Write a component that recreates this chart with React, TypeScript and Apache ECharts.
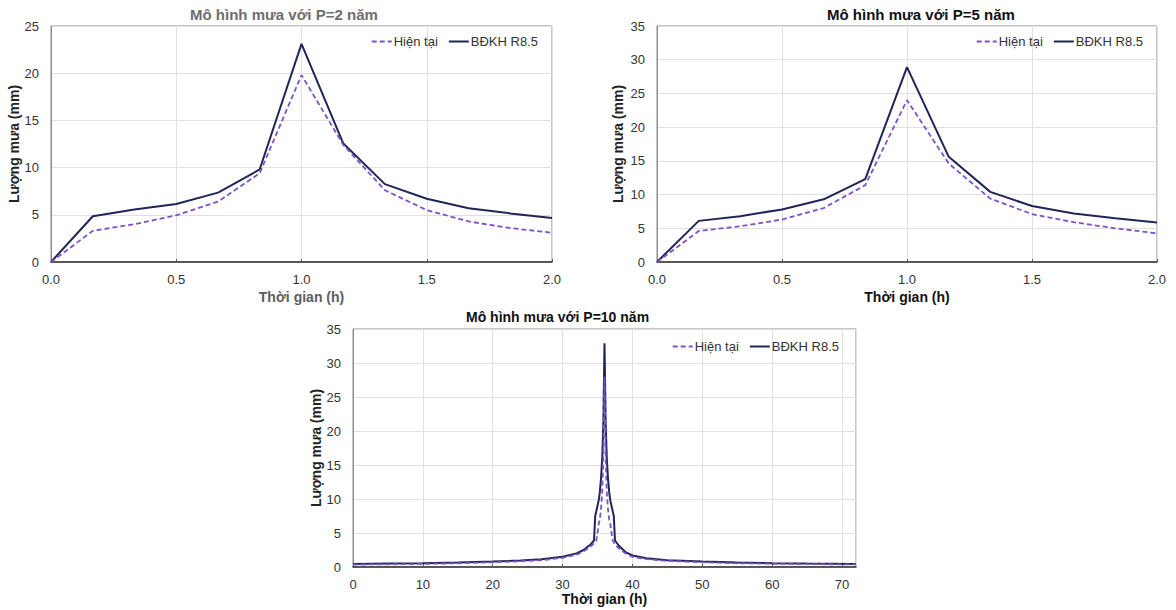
import React, { useEffect, useRef } from "react";
import * as echarts from "echarts";

// ---------- data ----------
const time2h = [0, 0.167, 0.333, 0.5, 0.667, 0.833, 1.0, 1.167, 1.333, 1.5, 1.667, 1.833, 2.0];

const p2Current = [0, 3.3, 4.0, 4.95, 6.4, 9.4, 19.8, 12.4, 7.6, 5.5, 4.3, 3.6, 3.1];
const p2Climate = [0, 4.85, 5.55, 6.15, 7.35, 9.8, 23.1, 12.55, 8.25, 6.7, 5.7, 5.15, 4.65];

const p5Current = [0, 4.6, 5.3, 6.3, 8.0, 11.4, 24.0, 14.6, 9.4, 7.1, 5.9, 5.0, 4.25];
const p5Climate = [0, 6.1, 6.8, 7.8, 9.3, 12.3, 28.9, 15.6, 10.4, 8.3, 7.2, 6.5, 5.85];

const p10CurrentTime = [0, 5, 10, 15, 20, 24, 27, 30, 32, 33, 34, 34.5, 34.83, 35.0, 35.17, 35.33, 35.5, 35.67, 35.83, 36.0, 36.17, 36.33, 36.5, 36.67, 36.83, 37.0, 37.17, 37.5, 38, 39, 40, 42, 45, 50, 55, 60, 65, 72];
const p10Current = [0.35, 0.4, 0.45, 0.55, 0.7, 0.85, 1.0, 1.35, 1.8, 2.3, 3.0, 3.5, 3.9, 5.0, 6.3, 7.0, 8.5, 11, 16, 28, 16, 11, 8.5, 7.0, 6.3, 5.0, 3.9, 3.3, 2.8, 2.0, 1.5, 1.15, 0.9, 0.7, 0.55, 0.48, 0.42, 0.38];

const p10ClimateTime = [0, 5, 10, 15, 20, 24, 27, 30, 32, 33, 34, 34.5, 34.67, 35.0, 35.17, 35.33, 35.5, 35.67, 35.83, 36.0, 36.17, 36.33, 36.5, 36.67, 36.83, 37.0, 37.33, 37.5, 38, 39, 40, 42, 45, 50, 55, 60, 65, 72];
const p10Climate = [0.45, 0.5, 0.55, 0.65, 0.8, 0.95, 1.15, 1.5, 2.0, 2.5, 3.3, 3.9, 7.5, 9.0, 9.8, 11, 13, 16, 21, 32.9, 21, 16, 13, 11, 9.8, 9.0, 7.5, 3.9, 3.2, 2.2, 1.7, 1.3, 1.0, 0.8, 0.65, 0.55, 0.5, 0.45];

const seriesNames = ["Hiện tại", "BĐKH R8.5"];
const titles = ["Mô hình mưa với P=2 năm", "Mô hình mưa với P=5 năm", "Mô hình mưa với P=10 năm"];
const xName = "Thời gian (h)";
const yName = "Lượng mưa (mm)";

const pairs = (xs: number[], ys: number[]) => xs.map((x, i) => [x, ys[i]]);

const FONT = "'Liberation Sans', Arial, sans-serif";
const DASH_COLOR = "#7b52c7";
const SOLID_COLOR = "#1f2657";

export default function App() {
  const ref = useRef<HTMLDivElement>(null);

  useEffect(() => {
    if (!ref.current) return;
    const chart = echarts.init(ref.current, undefined, { renderer: "svg" });

    const grids = [
      { left: 51, top: 26, width: 501, height: 236 },
      { left: 657, top: 26, width: 500, height: 236 },
      { left: 353, top: 329, width: 503, height: 238 },
    ];

    const xAxisBase = (gi: number, nameColor: string, nameGap: number, extra: any) => ({
      type: "value",
      gridIndex: gi,
      name: xName,
      nameLocation: "middle",
      nameGap,
      nameTextStyle: { fontFamily: FONT, fontSize: 14, fontWeight: "bold", color: nameColor },
      axisLine: { show: true, lineStyle: { color: "#2f2f2f", width: 1.5 } },
      axisTick: { show: true, inside: true, length: 3, lineStyle: { color: "#555" } },
      axisLabel: { fontFamily: FONT, fontSize: 13, color: "#333", margin: 11 },
      splitLine: { show: true, lineStyle: { color: "#e0e0e0", width: 1 } },
      ...extra,
    });

    const yAxisBase = (gi: number, max: number, nameGap: number) => ({
      type: "value",
      gridIndex: gi,
      min: 0,
      max,
      interval: 5,
      name: yName,
      nameLocation: "middle",
      nameGap,
      nameTextStyle: { fontFamily: FONT, fontSize: 14, fontWeight: "bold", color: "#222" },
      axisLine: { show: true, lineStyle: { color: "#8c8c8c", width: 1 } },
      axisTick: { show: false },
      axisLabel: { fontFamily: FONT, fontSize: 13, color: "#333", margin: 12 },
      splitLine: { show: true, lineStyle: { color: "#e0e0e0", width: 1 } },
    });

    const dashedSeries = (gi: number, data: number[][]) => ({
      type: "line",
      name: seriesNames[0],
      xAxisIndex: gi,
      yAxisIndex: gi,
      data,
      showSymbol: false,
      symbol: "none",
      lineStyle: { color: DASH_COLOR, width: 1.8, type: [5, 3] },
      itemStyle: { color: DASH_COLOR },
      z: 3,
    });
    const solidSeries = (gi: number, data: number[][]) => ({
      type: "line",
      name: seriesNames[1],
      xAxisIndex: gi,
      yAxisIndex: gi,
      data,
      showSymbol: false,
      symbol: "none",
      lineStyle: { color: SOLID_COLOR, width: 2 },
      itemStyle: { color: SOLID_COLOR },
      z: 2,
    });

    const legendBase = (right: number, top: number) => ({
      right,
      top,
      padding: 0,
      itemWidth: 20,
      itemHeight: 10,
      itemGap: 10,
      itemStyle: { opacity: 0 },
      data: seriesNames,
      textStyle: { fontFamily: FONT, fontSize: 13, color: "#333", padding: [0, 0, 0, -3] },
    });

    const fmt1 = (v: number) => v.toFixed(1);

    chart.setOption({
      animation: false,
      backgroundColor: "#ffffff",
      textStyle: { fontFamily: FONT },
      title: [
        { text: titles[0], left: 190, top: 7, padding: 0, textStyle: { fontFamily: FONT, fontSize: 15, fontWeight: "bold", color: "#6e6e6e" } },
        { text: titles[1], left: 827, top: 7, padding: 0, textStyle: { fontFamily: FONT, fontSize: 15, fontWeight: "bold", color: "#111" } },
        { text: titles[2], left: 466, top: 310, padding: 0, textStyle: { fontFamily: FONT, fontSize: 14, fontWeight: "bold", color: "#111" } },
      ],
      legend: [legendBase(638, 35), legendBase(33, 35), legendBase(337, 340)],
      grid: grids.map((g) => ({ ...g, show: true, borderColor: "#8c8c8c", borderWidth: 1, backgroundColor: "transparent" })),
      xAxis: [
        xAxisBase(0, "#5e5e5e", 28, { min: 0, max: 2, interval: 0.5, axisLabel: { fontFamily: FONT, fontSize: 13, color: "#333", margin: 11, formatter: fmt1 } }),
        xAxisBase(1, "#111", 28, { min: 0, max: 2, interval: 0.5, axisLabel: { fontFamily: FONT, fontSize: 13, color: "#333", margin: 11, formatter: fmt1 } }),
        xAxisBase(2, "#111", 24, { min: 0, max: 72, interval: 10, axisLabel: { fontFamily: FONT, fontSize: 13, color: "#333", margin: 11, showMaxLabel: false } }),
      ],
      yAxis: [yAxisBase(0, 25, 29), yAxisBase(1, 35, 32), yAxisBase(2, 35, 29)],
      series: [
        solidSeries(0, pairs(time2h, p2Climate)),
        dashedSeries(0, pairs(time2h, p2Current)),
        solidSeries(1, pairs(time2h, p5Climate)),
        dashedSeries(1, pairs(time2h, p5Current)),
        solidSeries(2, pairs(p10ClimateTime, p10Climate)),
        dashedSeries(2, pairs(p10CurrentTime, p10Current)),
      ],
    });

    return () => chart.dispose();
  }, []);

  return (
    <div
      ref={ref}
      style={{ position: "fixed", left: 0, top: 0, width: 1176, height: 610, background: "#fff" }}
    />
  );
}
